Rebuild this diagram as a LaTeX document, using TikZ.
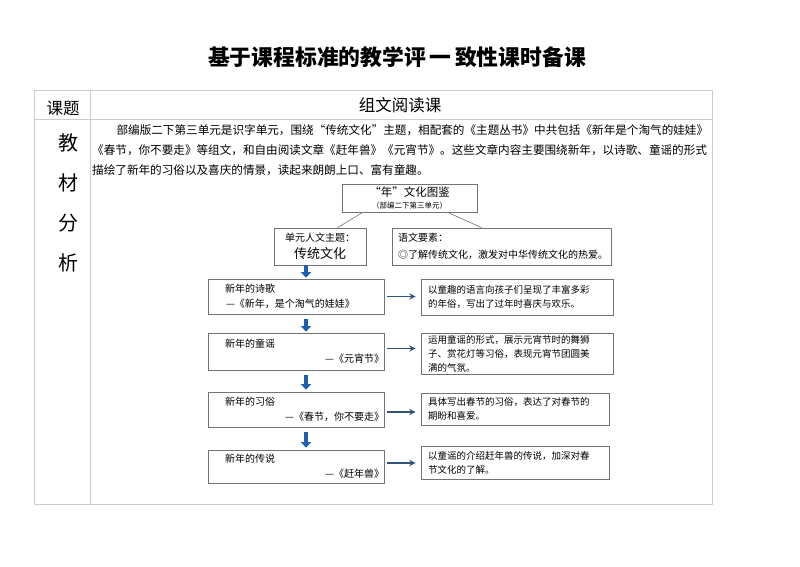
\documentclass[tikz,border=0pt]{standalone}
\usepackage{fontspec}
\setmainfont{Noto Sans CJK SC}
\usetikzlibrary{positioning,arrows.meta,calc}

\definecolor{gridgray}{RGB}{205,205,205}
\definecolor{boxgray}{RGB}{115,115,115}
\definecolor{flowblue}{RGB}{30,95,175}
\definecolor{linkblue}{RGB}{45,85,125}

\begin{document}
\begin{tikzpicture}[
    x=1pt, y=-1pt,
    grid/.style={draw=gridgray, line width=1pt},
    frame/.style={draw=boxgray, line width=0.7pt, inner ysep=0pt, align=left},
    topic/.style={frame, inner xsep=0pt, text width=176pt, minimum height=35pt, font=\fontsize{10}{15}\selectfont},
    note/.style={frame, inner xsep=7pt, text width=178pt, font=\fontsize{9.5}{14}\selectfont},
    bigchar/.style={font=\fontsize{20}{20}\selectfont},
    flow/.style={-{Triangle[width=10pt,length=5.5pt]}, line width=3.2pt, flowblue},
    link/.style={-{Stealth[width=6.5pt,length=6.5pt]}, line width=1.4pt, linkblue},
    branch/.style={draw=boxgray, line width=0.6pt},
]

\useasboundingbox (0,0) rectangle (800,566);

% Title
\node[font=\fontsize{21.8}{22}\selectfont\bfseries] (title) at (397,57) {基于课程标准的教学评\,一\,致性课时备课};

% Table frame
\draw[grid] (34,90) rectangle (712,504);
\draw[grid] (34,119) -- (712,119);
\draw[grid] (90,90) -- (90,504);

\node[font=\fontsize{16.5}{16.5}\selectfont] (keti) at (63,108) {课题};
\node[font=\fontsize{16.5}{16.5}\selectfont] (lesson) at (400,105) {组文阅读课};

\foreach \ch [count=\i] in {教,材,分,析}
    \node[bigchar] (col\i) at (68,103+40*\i) {\ch};

% Analysis text
\node[anchor=north west, inner sep=0pt, align=left, font=\fontsize{11.6}{20}\selectfont] (intro) at (92,124)
    {\hspace*{2.1em}部编版二下第三单元是识字单元，围绕“传统文化”主题，相配套的《主题丛书》中共包括《新年是个淘气的娃娃》\\
     《春节，你不要走》等组文，和自由阅读文章《赶年兽》《元宵节》。这些文章内容主要围绕新年，以诗歌、童谣的形式\\
     描绘了新年的习俗以及喜庆的情景，读起来朗朗上口、富有童趣。};

% Map of the unit
\node[frame, align=center, minimum width=135pt, minimum height=28pt, font=\fontsize{11.5}{13}\selectfont] (nian) at (409.5,198)
    {“年”文化图鉴\\[-1pt]{\fontsize{7.5}{9}\selectfont（部编二下第三单元）}};
\node[frame, align=center, minimum width=92pt, minimum height=37pt, font=\fontsize{10}{17}\selectfont] (theme) at (320,246.5)
    {单元人文主题：\\{\fontsize{13}{13}\selectfont 传统文化}};
\node[frame, inner xsep=6pt, text width=207pt, minimum height=37pt, font=\fontsize{10}{17}\selectfont] (element) at (501.5,246.5)
    {语文要素：\\◎了解传统文化，激发对中华传统文化的热爱。};

\draw[branch] ([xshift=21pt]nian.south west) -- ([xshift=64pt]theme.north west);
\draw[branch] ([xshift=106pt]nian.south west) -- ([xshift=90pt]element.north west);

% Texts of the group
\node[topic] (poem) at (296,296.5)
    {\hspace*{17pt}新年的诗歌\\\hspace*{18pt}—《新年，是个淘气的娃娃》};
\node[topic, minimum height=37pt] (rhyme) at (296,351.5)
    {\hspace*{17pt}新年的童谣\\\hfill—《元宵节》\hspace*{14pt}};
\node[topic] (custom) at (296,409.5)
    {\hspace*{17pt}新年的习俗\\\hfill—《春节，你不要走》\hspace*{2pt}};
\node[topic, minimum height=33pt] (legend) at (296,466.5)
    {\hspace*{17pt}新年的传说\\\hfill—《赶年兽》\hspace*{14pt}};

\node[note, minimum height=36pt] (poemnote) at (517,297)
    {以童趣的语言向孩子们呈现了丰富多彩\\的年俗，写出了过年时喜庆与欢乐。};
\node[note, minimum height=41pt] (rhymenote) at (517,353.5)
    {运用童谣的形式，展示元宵节时的舞狮\\子、赏花灯等习俗，表现元宵节团圆美\\满的气氛。};
\node[note, text width=174pt, minimum height=32pt] (customnote) at (515,409)
    {具体写出春节的习俗，表达了对春节的\\期盼和喜爱。};
\node[note, text width=174pt, minimum height=33pt] (legendnote) at (515,462.5)
    {以童谣的介绍赶年兽的传说，加深对春\\节文化的了解。};

% Down arrows
\draw[flow, shorten >=1pt] ([xshift=10pt]poem.north |- theme.south) -- ([xshift=10pt]poem.north);
\draw[flow, shorten <=5pt, shorten >=1pt] ([xshift=10pt]poem.south) -- ([xshift=10pt]rhyme.north);
\draw[flow, shorten <=5pt, shorten >=2pt] ([xshift=10pt]rhyme.south) -- ([xshift=10pt]custom.north);
\draw[flow, shorten <=5pt, shorten >=2pt] ([xshift=10pt]custom.south) -- ([xshift=10pt]legend.north);

% Side arrows
\draw[link] ([xshift=3pt]poem.east) -- ([xshift=-5pt]poem.east -| poemnote.west);
\draw[link] ([xshift=3pt,yshift=3pt]rhyme.east) -- ([xshift=-5pt,yshift=3pt]rhyme.east -| rhymenote.west);
\draw[link] ([xshift=3pt,yshift=-2.5pt]custom.east) -- ([xshift=-5pt,yshift=-2.5pt]custom.east -| customnote.west);
\draw[link] ([xshift=3pt,yshift=3.5pt]legend.east) -- ([xshift=-5pt,yshift=3.5pt]legend.east -| legendnote.west);

\end{tikzpicture}
\end{document}
